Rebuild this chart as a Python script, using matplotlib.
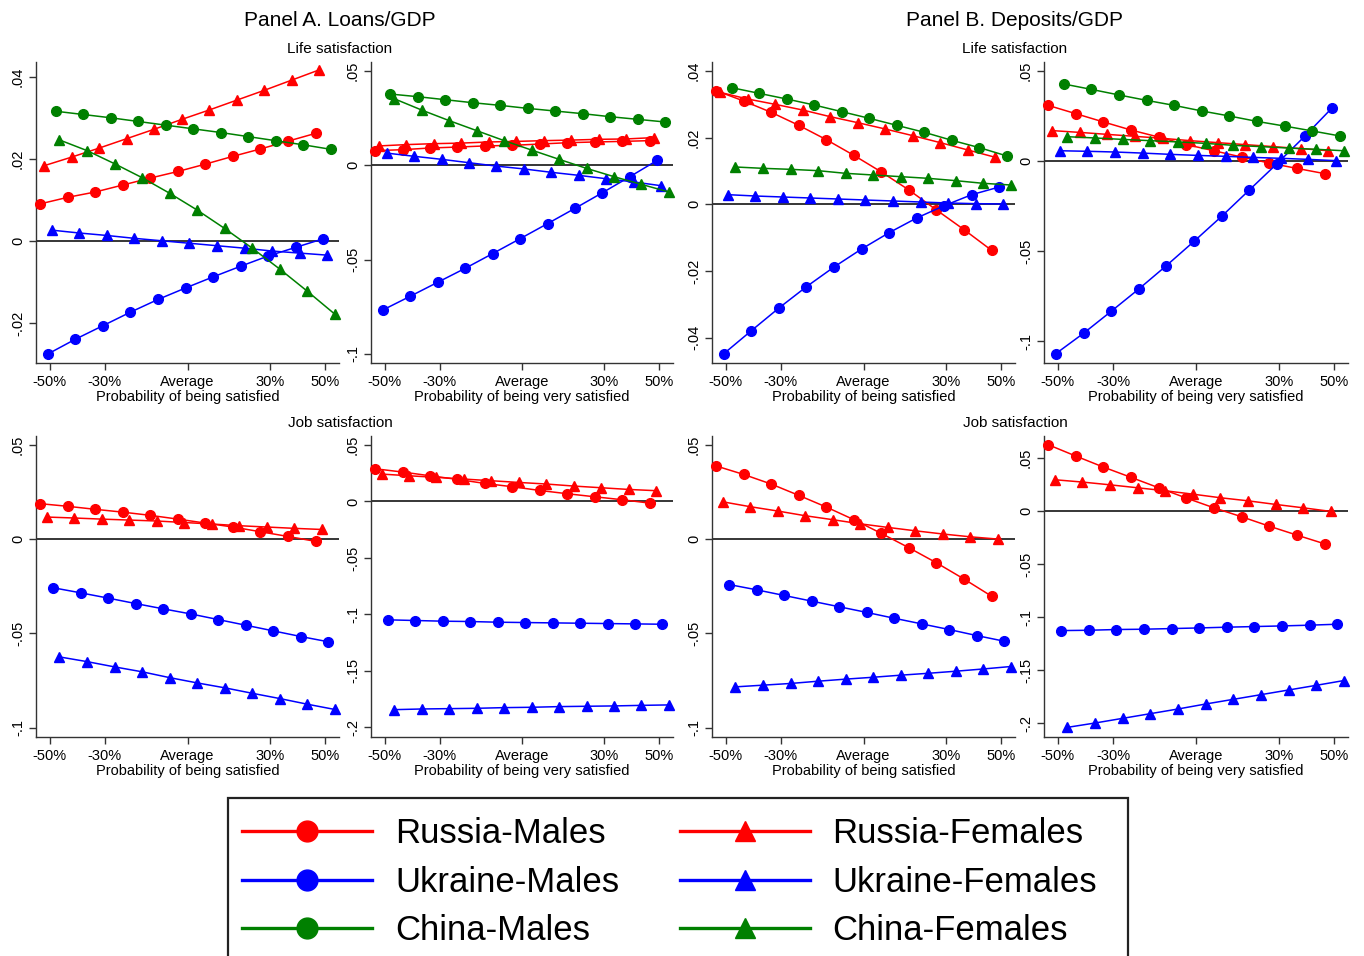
import matplotlib
matplotlib.use("Agg")
import matplotlib.pyplot as plt
from matplotlib.lines import Line2D
from matplotlib.patches import Rectangle

plt.rcParams['font.family'] = ['Liberation Sans', 'DejaVu Sans']

# Steps along the x axis (percent change around the average)
x_steps = [-50, -40, -30, -20, -10, 0, 10, 20, 30, 40, 50]
x_ticks = [-50, -30, 0, 30, 50]
x_tick_labels = ['-50%', '-30%', 'Average', '30%', '50%']

groups = ['Russia-Males', 'Russia-Females', 'Ukraine-Males', 'Ukraine-Females',
          'China-Males', 'China-Females']

# Panel A, Loans/GDP -- life satisfaction
loans_life_sat = {
    'Russia-Males':    [0.0091, 0.0107, 0.0120, 0.0137, 0.0154, 0.0170, 0.0188, 0.0207, 0.0225, 0.0244, 0.0263],
    'Russia-Females':  [0.0184, 0.0205, 0.0227, 0.0250, 0.0273, 0.0297, 0.0320, 0.0344, 0.0368, 0.0393, 0.0418],
    'Ukraine-Males':   [-0.0275, -0.0239, -0.0206, -0.0173, -0.0142, -0.0114, -0.0087, -0.0061, -0.0036, -0.0015, 0.0006],
    'Ukraine-Females': [0.0027, 0.0020, 0.0014, 0.0007, 0.0001, -0.0005, -0.0011, -0.0017, -0.0024, -0.0029, -0.0034],
    'China-Males':     [0.0317, 0.0309, 0.0301, 0.0292, 0.0283, 0.0274, 0.0265, 0.0255, 0.0245, 0.0235, 0.0224],
    'China-Females':   [0.0247, 0.0221, 0.0189, 0.0155, 0.0117, 0.0076, 0.0031, -0.0017, -0.0068, -0.0122, -0.0178],
}
loans_life_very = {
    'Russia-Males':    [0.0078, 0.0083, 0.0092, 0.0097, 0.0103, 0.0106, 0.0113, 0.0120, 0.0124, 0.0127, 0.0131],
    'Russia-Females':  [0.0103, 0.0110, 0.0115, 0.0118, 0.0124, 0.0127, 0.0131, 0.0134, 0.0138, 0.0140, 0.0147],
    'Ukraine-Males':   [-0.0767, -0.0694, -0.0620, -0.0546, -0.0468, -0.0389, -0.0309, -0.0228, -0.0145, -0.0060, 0.0027],
    'Ukraine-Females': [0.0065, 0.0048, 0.0032, 0.0014, -0.0004, -0.0019, -0.0037, -0.0053, -0.0071, -0.0088, -0.0108],
    'China-Males':     [0.0378, 0.0364, 0.0348, 0.0332, 0.0318, 0.0302, 0.0288, 0.0274, 0.0258, 0.0244, 0.0230],
    'China-Females':   [0.0353, 0.0293, 0.0237, 0.0184, 0.0131, 0.0081, 0.0032, -0.0016, -0.0060, -0.0101, -0.0141],
}
# Panel B, Deposits/GDP -- life satisfaction
deposits_life_sat = {
    'Russia-Males':    [0.0341, 0.0310, 0.0276, 0.0237, 0.0194, 0.0147, 0.0097, 0.0043, -0.0017, -0.0076, -0.0138],
    'Russia-Females':  [0.0336, 0.0316, 0.0300, 0.0283, 0.0263, 0.0245, 0.0226, 0.0206, 0.0185, 0.0163, 0.0141],
    'Ukraine-Males':   [-0.0448, -0.0379, -0.0311, -0.0247, -0.0188, -0.0134, -0.0085, -0.0041, -0.0004, 0.0029, 0.0052],
    'Ukraine-Females': [0.0029, 0.0025, 0.0022, 0.0019, 0.0016, 0.0013, 0.0010, 0.0007, 0.0004, 0.0002, 0.0001],
    'China-Males':     [0.0350, 0.0333, 0.0316, 0.0298, 0.0278, 0.0258, 0.0237, 0.0216, 0.0192, 0.0170, 0.0145],
    'China-Females':   [0.0112, 0.0108, 0.0105, 0.0101, 0.0093, 0.0088, 0.0083, 0.0078, 0.0071, 0.0063, 0.0058],
}
deposits_life_very = {
    'Russia-Males':    [0.0309, 0.0263, 0.0217, 0.0172, 0.0133, 0.0091, 0.0057, 0.0022, -0.0011, -0.0041, -0.0070],
    'Russia-Females':  [0.0169, 0.0159, 0.0148, 0.0137, 0.0126, 0.0113, 0.0102, 0.0091, 0.0080, 0.0069, 0.0057],
    'Ukraine-Males':   [-0.1070, -0.0957, -0.0835, -0.0711, -0.0581, -0.0446, -0.0307, -0.0161, -0.0015, 0.0137, 0.0296],
    'Ukraine-Females': [0.0057, 0.0054, 0.0050, 0.0044, 0.0037, 0.0031, 0.0026, 0.0020, 0.0015, 0.0009, 0.0002],
    'China-Males':     [0.0428, 0.0398, 0.0367, 0.0337, 0.0309, 0.0278, 0.0250, 0.0220, 0.0194, 0.0167, 0.0139],
    'China-Females':   [0.0135, 0.0128, 0.0120, 0.0113, 0.0106, 0.0098, 0.0087, 0.0080, 0.0072, 0.0065, 0.0057],
}
# Job satisfaction (Russia and Ukraine only)
loans_job_sat = {
    'Russia-Males':    [0.0188, 0.0174, 0.0158, 0.0143, 0.0126, 0.0106, 0.0085, 0.0064, 0.0039, 0.0014, -0.0012],
    'Russia-Females':  [0.0117, 0.0112, 0.0106, 0.0101, 0.0096, 0.0088, 0.0080, 0.0071, 0.0064, 0.0057, 0.0051],
    'Ukraine-Males':   [-0.0258, -0.0285, -0.0313, -0.0342, -0.0370, -0.0397, -0.0427, -0.0457, -0.0487, -0.0517, -0.0545],
    'Ukraine-Females': [-0.0625, -0.0650, -0.0678, -0.0704, -0.0735, -0.0763, -0.0789, -0.0818, -0.0846, -0.0876, -0.0904],
}
loans_job_very = {
    'Russia-Males':    [0.0289, 0.0260, 0.0227, 0.0195, 0.0159, 0.0130, 0.0097, 0.0068, 0.0041, 0.0015, -0.0015],
    'Russia-Females':  [0.0242, 0.0227, 0.0213, 0.0198, 0.0183, 0.0168, 0.0154, 0.0136, 0.0121, 0.0106, 0.0095],
    'Ukraine-Males':   [-0.1048, -0.1054, -0.1060, -0.1063, -0.1069, -0.1072, -0.1075, -0.1078, -0.1081, -0.1084, -0.1087],
    'Ukraine-Females': [-0.1843, -0.1837, -0.1834, -0.1831, -0.1825, -0.1822, -0.1816, -0.1813, -0.1810, -0.1805, -0.1801],
}
deposits_job_sat = {
    'Russia-Males':    [0.0388, 0.0343, 0.0292, 0.0232, 0.0170, 0.0103, 0.0030, -0.0046, -0.0126, -0.0212, -0.0303],
    'Russia-Females':  [0.0198, 0.0172, 0.0149, 0.0124, 0.0103, 0.0081, 0.0062, 0.0044, 0.0027, 0.0012, 0.0000],
    'Ukraine-Males':   [-0.0241, -0.0269, -0.0299, -0.0329, -0.0359, -0.0389, -0.0420, -0.0450, -0.0480, -0.0512, -0.0542],
    'Ukraine-Females': [-0.0784, -0.0775, -0.0766, -0.0754, -0.0743, -0.0733, -0.0722, -0.0712, -0.0701, -0.0689, -0.0676],
}
deposits_job_very = {
    'Russia-Males':    [0.0626, 0.0519, 0.0415, 0.0318, 0.0220, 0.0123, 0.0031, -0.0053, -0.0142, -0.0226, -0.0308],
    'Russia-Females':  [0.0296, 0.0274, 0.0248, 0.0220, 0.0192, 0.0160, 0.0126, 0.0097, 0.0063, 0.0031, -0.0003],
    'Ukraine-Males':   [-0.1126, -0.1123, -0.1116, -0.1113, -0.1107, -0.1101, -0.1094, -0.1088, -0.1082, -0.1075, -0.1066],
    'Ukraine-Females': [-0.2038, -0.1997, -0.1953, -0.1909, -0.1865, -0.1818, -0.1774, -0.1730, -0.1686, -0.1642, -0.1597],
}

colors = {'Russia': '#ff0000', 'Ukraine': '#0000ff', 'China': '#008000'}
markers = {'Males': 'o', 'Females': '^'}

W, H = 1364, 956
fig = plt.figure(figsize=(W / 100, H / 100), dpi=100)


def add_axes_px(left, top, right, bottom):
    return fig.add_axes([left / W, 1 - bottom / H, (right - left) / W, (bottom - top) / H])


def fmt(v):
    if abs(v) < 1e-9:
        return '0'
    s = ('%g' % v).replace('0.', '.')
    return s


def draw_panel(ax, data, xlabel, ylim, yticks):
    n = len(data)
    # small horizontal dodge so markers of different groups don't sit on top of each other
    gap = 7.0 / (n - 1)
    ax.axhline(0, color='black', lw=1.1, zorder=1)
    for i, name in enumerate(groups):
        if name not in data:
            continue
        country, sex = name.split('-')
        shift = -3.5 + i * gap
        xs = [x + shift for x in x_steps]
        ax.plot(xs, data[name], color=colors[country], marker=markers[sex],
                ms=7 if sex == 'Males' else 7.5, lw=1.1, zorder=3, clip_on=False)
    ax.set_xlim(-55, 55)
    ax.set_ylim(*ylim)
    ax.set_xticks(x_ticks)
    ax.set_xticklabels(x_tick_labels)
    ax.set_yticks(yticks)
    ax.set_yticklabels([fmt(t) for t in yticks], rotation=90, va='center')
    ax.set_xlabel(xlabel, fontsize=10.5, labelpad=1)
    for side in ('top', 'right'):
        ax.spines[side].set_visible(False)
    for side in ('left', 'bottom'):
        ax.spines[side].set_color('#333333')
        ax.spines[side].set_linewidth(1.0)
    ax.tick_params(length=5, width=1.0, color='#333333', labelsize=10.5, pad=3.5)
    ax.tick_params(axis='y', pad=3)


sat = 'Probability of being satisfied'
very = 'Probability of being very satisfied'

cols = [(36, 339), (371, 673), (712, 1015), (1044, 1348)]
rows = [(62, 363), (436, 737)]

panels = [
    (0, 0, loans_life_sat, sat, (-0.0297, 0.0437), [-0.02, 0, 0.02, 0.04]),
    (0, 1, loans_life_very, very, (-0.1048, 0.0548), [-0.1, -0.05, 0, 0.05]),
    (0, 2, deposits_life_sat, sat, (-0.0476, 0.0427), [-0.04, -0.02, 0, 0.02, 0.04]),
    (0, 3, deposits_life_very, very, (-0.1122, 0.055), [-0.1, -0.05, 0, 0.05]),
    (1, 0, loans_job_sat, sat, (-0.105, 0.0547), [-0.1, -0.05, 0, 0.05]),
    (1, 1, loans_job_very, very, (-0.2085, 0.0579), [-0.2, -0.15, -0.1, -0.05, 0, 0.05]),
    (1, 2, deposits_job_sat, sat, (-0.105, 0.0547), [-0.1, -0.05, 0, 0.05]),
    (1, 3, deposits_job_very, very, (-0.2129, 0.0708), [-0.2, -0.15, -0.1, -0.05, 0, 0.05]),
]

for r, c, data, xl, yl, yt in panels:
    left, right = cols[c]
    top, bottom = rows[r]
    ax = add_axes_px(left, top, right, bottom)
    draw_panel(ax, data, xl, yl, yt)

# titles
for cx, title in [(340, 'Panel A. Loans/GDP'), (1015, 'Panel B. Deposits/GDP')]:
    fig.text(cx / W, 1 - 21 / H, title, ha='center', va='center', fontsize=15)
    fig.text(cx / W, 1 - 49 / H, 'Life satisfaction', ha='center', va='center', fontsize=11)
    fig.text(cx / W, 1 - 423 / H, 'Job satisfaction', ha='center', va='center', fontsize=11)

# legend: columns are males / females
order = ['Russia-Males', 'Ukraine-Males', 'China-Males',
         'Russia-Females', 'Ukraine-Females', 'China-Females']
handles = []
for name in order:
    country, sex = name.split('-')
    handles.append(Line2D([], [], color=colors[country], marker=markers[sex],
                          ms=15, lw=2.4))
fig.legend(handles, order, ncol=2, loc='upper left',
           bbox_to_anchor=(223 / W, 1 - 798 / H), borderaxespad=0,
           fontsize=25, handlelength=3.75, handletextpad=0.65,
           columnspacing=1.75, labelspacing=0.45, borderpad=0.55,
           frameon=False)
# legend box, running past the bottom edge of the figure
fig.patches.append(Rectangle((228 / W, -0.02), 900 / W, (1 - 798 / H) + 0.02,
                             transform=fig.transFigure, fill=False,
                             edgecolor='#222222', lw=1.6))

fig.savefig('out.png', dpi=100)
